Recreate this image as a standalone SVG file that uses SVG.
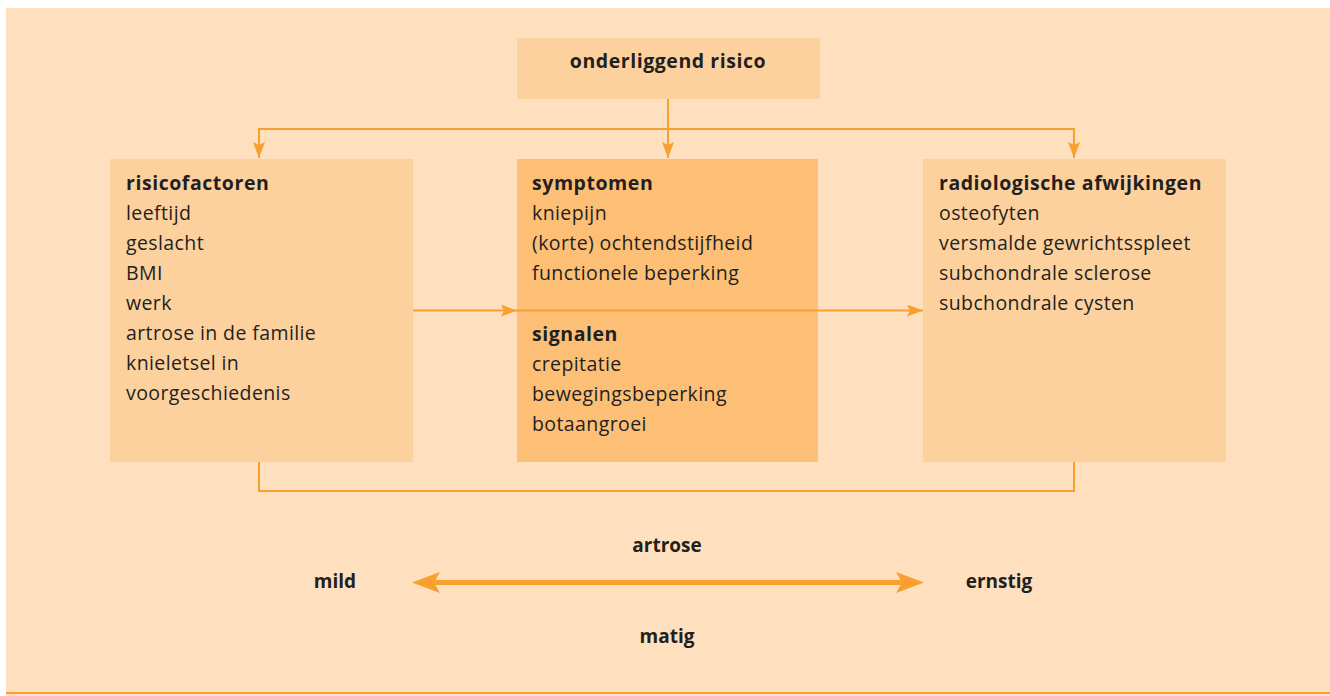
<svg xmlns="http://www.w3.org/2000/svg" width="1330" height="696" viewBox="0 0 1330 696">
<defs>
<style>
.bg{fill:#FEE0BE}
.light{fill:#FDD19E}
.dark{fill:#FDBF76}
.t{font-family:"Open Sans","Noto Sans","Liberation Sans",sans-serif;font-size:19.5px;fill:#231F20;letter-spacing:0.4px}
.b{font-weight:bold;font-size:19.5px;letter-spacing:0.55px}
.lbl{font-family:"Open Sans","Noto Sans","Liberation Sans",sans-serif;font-size:19px;font-weight:bold;fill:#231F20}
.c{fill:none;stroke:#F7A02F;stroke-width:2}
</style>
<marker id="ah" viewBox="0 0 16 12" refX="16" refY="6" markerWidth="16" markerHeight="12" markerUnits="userSpaceOnUse" orient="auto">
<path d="M0,0 L16,6 L0,12 L3,6 Z" fill="#F7A02F"/>
</marker>
</defs>
<rect x="6" y="8" width="1324" height="688" class="bg"/>
<rect x="6" y="692" width="1324" height="2" fill="#F7A02F"/>

<g id="connectors">
<path class="c" d="M668,99 V158" marker-end="url(#ah)"/>
<path class="c" d="M259,158 V129 H1074 V158"/>
<path class="c" d="M259,129 V158" marker-end="url(#ah)"/>
<path class="c" d="M1074,129 V158" marker-end="url(#ah)"/>
<path class="c" d="M413,310.5 H517" marker-end="url(#ah)"/>
<path class="c" d="M259,462 V491 H1074 V462"/>
</g>

<g id="n-onderliggend">
<rect x="517" y="38" width="303" height="61" class="light"/>
<text x="668" y="68" class="t b" text-anchor="middle">onderliggend risico</text>
</g>

<g id="n-risicofactoren">
<rect x="110" y="159" width="303" height="303" class="light"/>
<text class="t" x="126">
<tspan x="126" y="190" class="b">risicofactoren</tspan>
<tspan x="126" y="220">leeftijd</tspan>
<tspan x="126" y="250">geslacht</tspan>
<tspan x="126" y="280">BMI</tspan>
<tspan x="126" y="310">werk</tspan>
<tspan x="126" y="340">artrose in de familie</tspan>
<tspan x="126" y="370">knieletsel in</tspan>
<tspan x="126" y="400">voorgeschiedenis</tspan>
</text>
</g>

<g id="n-symptomen">
<rect x="517" y="159" width="301" height="303" class="dark"/>
<text class="t" x="532">
<tspan x="532" y="190" class="b">symptomen</tspan>
<tspan x="532" y="220">kniepijn</tspan>
<tspan x="532" y="250">(korte) ochtendstijfheid</tspan>
<tspan x="532" y="280">functionele beperking</tspan>
<tspan x="532" y="341" class="b">signalen</tspan>
<tspan x="532" y="371">crepitatie</tspan>
<tspan x="532" y="401">bewegingsbeperking</tspan>
<tspan x="532" y="431">botaangroei</tspan>
</text>
</g>

<g id="n-radiologisch">
<rect x="923" y="159" width="303" height="303" class="light"/>
<text class="t" x="939">
<tspan x="939" y="190" class="b">radiologische afwijkingen</tspan>
<tspan x="939" y="220">osteofyten</tspan>
<tspan x="939" y="250">versmalde gewrichtsspleet</tspan>
<tspan x="939" y="280">subchondrale sclerose</tspan>
<tspan x="939" y="310">subchondrale cysten</tspan>
</text>
</g>

<g id="connectors-over">
<path class="c" d="M517,310.5 H923" marker-end="url(#ah)"/>
</g>

<g id="scale">
<path d="M432,582.5 H904" stroke="#F7A02F" stroke-width="5" fill="none"/>
<path d="M412,582.5 L440,572 L434,582.5 L440,593 Z" fill="#F7A02F"/>
<path d="M924,582.5 L896,572 L902,582.5 L896,593 Z" fill="#F7A02F"/>
<text x="667" y="552" class="lbl" text-anchor="middle">artrose</text>
<text x="335" y="588" class="lbl" text-anchor="middle">mild</text>
<text x="999" y="588" class="lbl" text-anchor="middle">ernstig</text>
<text x="667" y="643" class="lbl" text-anchor="middle">matig</text>
</g>
</svg>
